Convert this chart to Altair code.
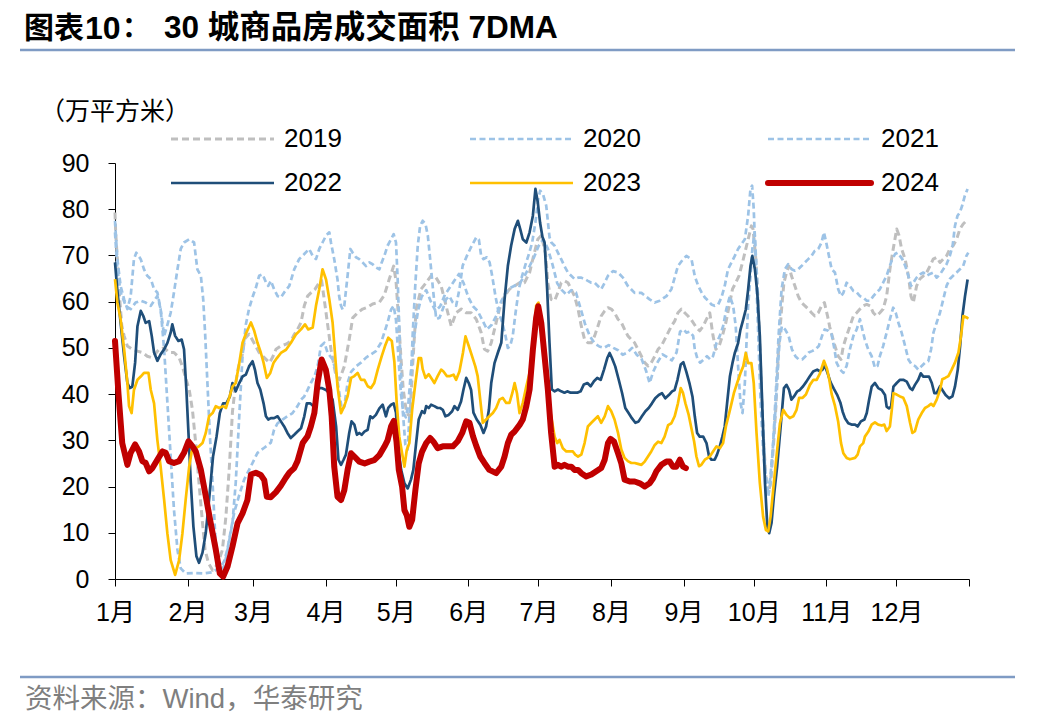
import altair as alt
import pandas as pd

# ---------------- data (day-of-year, 7DMA value in 万平方米) ----------------
YEARS = ["2019", "2020", "2021", "2022", "2023", "2024"]

P2019 = [(0,79.3),(0.3,74.9),(1.0,69.2),(1.7,62.7),(2.9,54.8),(3.9,52.6),(5.3,50.4),(7.4,49.7),(9.6,49.3),(11.7,49.0),
         (13.8,48.2),(15.7,47.9),(17.1,48.6),(18.8,49.7),(21.0,50.0),(23.1,49.0),(25.2,49.0),(27.4,47.9),(28.8,46.0),
         (30.2,43.5),(31.7,41.0),(33.1,36.6),(34.5,29.4),(35.9,20.8),(37.4,12.1),(38.5,6.3),(39.9,3.5),(41.7,1.9),
         (43.1,2.7),(44.5,4.1),(45.9,6.3),(47.4,13.5),(48.8,23.6),(50.2,36.2),(51.6,42.4),(52.8,46.0),(54.2,48.0),
         (55.5,52.0),(57.3,53.0),(59.5,51.0),(61.6,49.0),(63.8,47.9),(66.0,46.8),(67.3,47.9),(68.8,49.7),(70.9,50.4),
         (73.1,50.8),(75.2,51.5),(76.6,52.9),(78.0,54.0),(79.5,55.5),(80.9,59.1),(82.3,61.2),(83.7,61.9),(85.5,62.7),
         (86.9,63.8),(88.3,64.6),(90.2,57.6),(92.3,49.7),(94.5,43.8),(95.9,43.1),(98.0,46.0),(100.1,51.8),(101.6,56.5),
         (103.7,57.6),(105.8,58.4),(108.0,58.8),(110.1,59.5),(113.0,59.9),(115.1,61.4),(117.3,65.0),(119.1,67.7),
         (120.1,64.5),(121.1,57.0),(122.2,48.0),(123.2,41.0),(124.3,37.0),(125.3,35.5),(126.1,35.2),(127.2,46.1),
         (128.7,58.4),(130.8,62.7),(133.0,64.1),(135.1,65.6),(137.2,65.2),(139.4,63.4),(141.5,59.1),(143.7,54.7),
         (145.8,57.6),(148.0,58.4),(150.1,57.6),(152.2,57.6),(154.4,56.2),(156.5,53.3),(157.9,49.7),(159.3,49.3),
         (160.8,51.1),(162.2,54.0),(164.3,58.4),(166.5,61.2),(168.6,62.7),(170.8,63.4),(172.9,64.1),(175.0,64.1),
         (177.2,66.3),(178.9,69.9),(180.7,73.5),(182.2,74.3),(184.0,70.5),(185.0,64.1),(186.4,60.5),(187.9,60.2),
         (189.3,62.0),(190.7,64.1),(192.1,64.5),(193.6,64.1),(195.0,62.7),(196.4,61.2),(197.9,58.4),(199.3,54.7),
         (200.7,51.8),(202.1,51.1),(203.6,51.1),(205.0,52.6),(206.4,54.7),(207.8,56.9),(209.3,58.0),(210.7,58.7),
         (212.1,58.4),(213.5,57.6),(215.0,56.2),(216.4,55.5),(217.8,54.0),(219.2,52.6),(220.7,51.8),(222.1,51.1),
         (223.5,49.7),(225.0,48.2),(226.4,46.8),(227.8,46.1),(229.2,46.8),(230.7,48.2),(232.1,49.7),(233.5,50.4),
         (234.9,51.8),(236.4,53.3),(237.8,54.7),(239.2,55.8),(240.6,57.6),(242.1,58.4),(243.5,57.6),(244.9,56.9),
         (246.4,56.0),(248.5,54.4),(249.9,53.7),(251.4,54.7),(252.8,56.2),(254.2,57.6),(255.6,52.6),(256.8,49.7),
         (258.2,50.4),(259.6,52.6),(261.1,55.5),(262.5,59.1),(263.9,62.7),(265.3,64.1),(266.7,65.6),(268.2,68.5),
         (269.6,71.4),(271.0,74.3),(272.0,76.4),(272.7,75.7),(273.9,69.2),(274.9,59.8),(275.9,46.1),(277.0,31.6),
         (278.2,22.2),(279.2,18.6),(280.2,20.8),(281.3,28.0),(282.5,37.4),(283.6,49.7),(284.9,58.4),(285.9,64.1),
         (287.0,66.3),(288.1,67.7),(289.1,65.6),(290.6,63.4),(292.0,61.2),(293.4,59.8),(294.9,59.1),(296.3,58.4),
         (297.7,57.6),(299.1,56.9),(300.6,57.6),(302.0,59.1),(303.2,59.8),(304.5,57.0),(305.5,54.5),(306.5,52.6),
         (307.7,50.4),(309.1,48.2),(310.3,47.5),(311.3,50.4),(312.7,52.6),(314.1,54.7),(315.6,56.9),(317.0,57.6),
         (318.4,58.4),(319.8,59.1),(321.3,59.4),(322.7,59.1),(324.1,57.6),(325.5,56.9),(326.9,57.6),(328.3,58.4),
         (329.8,61.2),(331.2,67.0),(332.6,71.4),(334.1,75.7),(335.1,74.3),(336.2,71.4),(337.7,69.2),(339.1,65.6),
         (340.2,61.2),(341.2,59.8),(342.6,63.4),(344.0,64.9),(345.5,65.6),(346.9,66.3),(348.3,67.7),(349.7,69.2),
         (351.2,69.6),(352.6,68.5),(354.0,69.2),(355.4,69.9),(356.8,71.4),(358.2,72.1),(359.7,73.5),(361.1,75.7),
         (362.5,76.8),(363.9,77.5)]

P2020 = [(0,75.0),(1.0,67.0),(2.4,62.0),(4.6,59.1),(6.7,58.4),(8.8,59.8),(11.0,60.2),(13.1,59.8),(15.3,59.1),
         (16.7,60.2),(18.1,61.2),(19.5,58.4),(21.0,49.7),(22.4,38.1),(23.8,26.5),(25.2,15.0),(26.7,6.3),(28.1,2.3),
         (30.2,1.2),(34.0,1.3),(38.0,1.2),(42.0,1.5),(45.2,2.7),(46.6,3.8),(48.0,6.3),(49.5,10.5),(51.0,14.5),
         (53.0,18.0),(55.2,21.5),(58.1,24.4),(60.9,27.3),(63.8,28.4),(66.6,29.5),(68.0,32.3),(69.5,33.7),(71.6,34.5),
         (73.7,35.2),(75.9,35.9),(78.0,37.4),(79.5,38.8),(80.9,39.5),(82.3,40.9),(83.7,42.4),(85.2,43.8),(86.6,46.0),
         (88.0,50.4),(89.5,51.1),(90.9,48.9),(93.0,47.5),(94.5,44.8),(95.8,40.5),(97.0,36.6),(98.0,37.3),(99.4,42.4),
         (100.9,44.8),(103.0,46.0),(105.1,46.8),(107.3,47.9),(109.4,48.6),(111.5,49.3),(113.7,51.1),(115.1,53.3),
         (116.5,55.5),(118.0,58.3),(119.1,59.1),(120.1,56.0),(121.1,48.2),(122.2,40.2),(123.2,36.0),(124.3,35.0),
         (125.3,37.5),(126.5,45.0),(128.0,53.0),(129.5,58.0),(131.0,61.0),(133.0,62.5),(135.0,60.0),(137.0,58.0),
         (139.0,59.0),(141.0,61.5),(143.0,63.0),(145.0,64.5),(147.0,66.0),(149.0,64.0),(151.0,61.0),(153.0,59.0),
         (155.0,58.0),(157.0,56.0),(159.0,54.0),(161.0,55.0),(163.0,57.0),(165.0,60.0),(167.0,62.0),(169.0,63.0),
         (171.0,63.5),(173.0,64.0),(175.0,65.5),(177.0,67.5),(179.0,69.5),(181.0,72.0),(183.0,73.5),(185.0,71.5),
         (187.0,68.0),(189.0,64.0),(191.0,62.5),(193.0,61.5),(195.0,62.5),(197.0,62.0),(199.0,58.5),(201.0,55.0),
         (203.0,52.5),(205.0,51.0),(207.0,50.3),(209.0,50.0),(211.0,50.6),(213.0,50.0),(215.0,49.5),(217.0,48.5),
         (219.0,49.0),(221.0,50.0),(223.0,48.5),(225.0,47.7),(227.0,45.0),(228.5,42.4),(230.0,44.8),(232.0,47.0),
         (234.0,48.6),(236.0,48.0),(238.0,47.3),(240.0,49.0),(241.5,53.5),(243.0,54.0),(244.2,53.3),(245.6,53.5),
         (247.1,52.6),(247.8,49.7),(249.0,47.5),(250.1,46.8),(251.6,47.5),(253.0,48.2),(254.4,47.5),(255.6,48.2),
         (257.1,51.1),(258.5,52.6),(259.9,54.7),(261.3,58.4),(262.8,61.2),(264.2,59.1),(265.3,54.7),(266.3,46.1),
         (267.3,38.2),(268.2,35.9),(269.2,42.4),(269.9,51.1),(270.6,59.1),(271.6,65.6),(272.4,71.4),(273.4,75.0),
         (274.5,64.1),(275.6,49.7),(276.8,35.2),(277.8,24.4),(278.8,19.3),(280.0,21.5),(281.1,28.0),(282.1,35.2),
         (283.1,43.9),(284.0,51.1),(285.0,54.7),(286.4,54.0),(287.9,52.6),(289.3,49.7),(290.8,48.2),(292.2,47.5),
         (293.7,47.5),(295.1,48.2),(296.5,49.0),(297.9,49.3),(299.4,49.7),(300.8,50.4),(302.2,52.6),(303.3,54.0),
         (304.9,53.7),(306.3,52.9),(307.5,49.7),(308.4,46.8),(309.9,45.3),(311.3,44.6),(312.7,46.1),(314.1,49.7),
         (315.6,52.6),(317.0,54.0),(318.4,56.2),(319.4,54.0),(320.5,51.8),(321.9,49.7),(323.4,48.2),(324.8,45.7),
         (325.9,46.1),(326.9,48.2),(328.3,50.4),(329.8,53.3),(331.2,56.2),(332.6,58.7),(333.7,57.6),(334.8,55.5),
         (336.2,53.3),(337.7,50.4),(339.1,47.5),(340.5,46.4),(341.9,46.1),(343.3,45.3),(344.8,46.1),(346.2,46.8),
         (347.6,47.1),(348.8,49.7),(349.8,53.3),(351.2,55.5),(352.6,57.6),(354.0,60.5),(355.4,63.4),(356.8,64.9),
         (358.2,65.6),(359.7,66.3),(361.1,67.0),(362.5,67.7),(363.9,69.9),(364.7,70.6)]

P2021 = [(0,77.5),(1.0,69.2),(2.4,63.4),(3.9,60.5),(5.3,58.4),(6.7,61.2),(8.1,69.2),(9.1,70.6),(11.0,69.2),
         (12.4,67.0),(13.8,65.6),(15.3,64.9),(16.7,62.7),(18.1,62.0),(19.5,58.4),(21.0,52.6),(22.4,55.0),(23.8,57.6),
         (25.2,62.0),(26.7,67.0),(28.1,71.4),(29.5,72.8),(31.7,73.5),(33.8,72.8),(35.2,67.0),(36.7,65.6),(37.7,60.5),
         (38.5,53.3),(39.5,42.4),(40.5,31.6),(41.7,20.8),(42.8,9.9),(43.8,4.1),(45.2,2.0),(46.6,2.7),(48.1,6.3),
         (50.2,12.1),(51.6,20.8),(53.1,35.2),(54.5,48.2),(55.9,55.0),(57.3,58.5),(58.8,61.0),(60.2,63.0),(61.6,65.6),
         (63.1,65.9),(64.5,64.2),(65.5,63.4),(66.6,64.5),(68.0,62.7),(69.5,61.2),(70.9,60.9),(72.3,62.0),(74.5,63.4),
         (76.6,67.0),(78.7,69.2),(80.9,70.3),(83.0,71.4),(84.5,69.9),(85.9,69.2),(87.3,71.4),(88.7,72.8),(90.2,74.3),
         (91.6,75.0),(92.3,72.8),(93.7,69.2),(95.1,64.8),(95.8,61.2),(96.6,59.1),(97.3,58.3),(98.0,59.1),(99.4,65.6),
         (100.6,71.4),(101.6,70.6),(103.0,69.6),(104.4,69.2),(105.8,68.5),(107.3,67.7),(108.7,68.5),(110.1,68.1),
         (111.5,67.4),(113.0,67.0),(114.0,68.5),(115.1,69.9),(116.5,72.1),(118.0,73.5),(119.1,74.6),(120.1,72.8),
         (120.8,65.0),(121.8,50.0),(122.9,37.0),(124.1,29.0),(125.1,28.0),(126.1,38.0),(127.2,52.6),(128.4,64.1),
         (129.4,72.1),(130.4,76.4),(131.5,77.5),(132.7,76.8),(133.7,74.3),(134.7,69.2),(135.9,62.7),(137.3,56.2),
         (138.7,56.5),(140.1,58.4),(141.5,60.5),(142.9,61.2),(144.4,59.8),(145.8,59.1),(147.2,62.7),(148.6,67.8),
         (150.4,69.9),(151.8,71.4),(152.9,72.5),(154.4,73.9),(155.5,73.5),(156.5,69.9),(157.5,69.2),(158.9,69.6),
         (160.1,68.5),(161.2,65.6),(162.6,61.2),(164.0,57.6),(165.5,55.5),(166.9,52.6),(167.9,50.0),(168.9,50.4),
         (170.0,52.6),(171.2,57.6),(172.6,62.7),(174.0,65.6),(175.5,68.1),(176.9,70.3),(178.3,72.8),(179.7,77.2),
         (180.9,82.2),(181.7,84.0),(182.9,83.3),(184.3,80.8),(185.7,74.0),(186.5,72.8),(187.9,72.1),(189.3,70.6),
         (190.7,69.2),(192.1,67.7),(193.6,66.3),(195.0,65.6),(196.4,64.9),(197.9,65.2),(199.3,65.2),(200.7,64.9),
         (202.1,64.5),(203.6,64.1),(205.0,64.1),(206.4,63.4),(207.8,62.7),(209.3,64.1),(210.7,65.6),(212.8,66.6),
         (215.0,66.3),(217.1,65.2),(219.2,63.4),(222.1,61.9),(225.0,61.9),(228.5,60.5),(230.7,59.8),(232.8,60.2),
         (235.7,61.2),(237.8,62.7),(240.6,67.7),(242.8,69.2),(244.2,69.9),(246.4,69.2),(247.8,65.5),(249.3,63.4),
         (250.7,62.0),(252.1,60.9),(253.5,60.2),(254.9,59.4),(256.3,59.1),(257.8,59.4),(259.2,60.9),(260.6,63.4),
         (262.0,67.0),(263.5,68.5),(264.9,69.9),(266.3,71.4),(267.8,72.5),(269.2,73.5),(270.6,78.6),(271.6,84.4),
         (272.3,85.1),(273.0,80.0),(273.9,67.7),(274.9,53.3),(275.9,38.8),(277.0,28.0),(278.2,20.8),(279.2,17.9),
         (280.2,20.8),(281.3,29.4),(282.5,41.0),(283.6,52.6),(284.9,62.7),(286.3,67.0),(287.7,68.1),(289.2,67.0),
         (290.6,66.7),(292.0,67.0),(293.4,67.7),(294.9,68.5),(296.3,69.2),(297.7,69.9),(299.1,71.0),(300.6,71.4),
         (302.0,72.8),(303.0,75.0),(304.1,72.5),(305.3,69.5),(306.3,67.0),(307.7,66.3),(309.1,62.7),(310.3,61.2),
         (311.3,61.9),(312.7,64.1),(314.1,63.4),(315.6,62.3),(317.0,62.0),(318.4,61.2),(319.8,60.9),(321.3,60.2),
         (322.7,60.2),(324.1,61.2),(325.5,62.0),(326.9,62.7),(328.3,64.1),(329.8,65.6),(331.2,67.8),(332.2,69.2),
         (333.4,70.3),(334.5,70.6),(335.5,69.9),(336.5,69.2),(337.7,67.8),(339.1,65.6),(340.2,63.4),(341.2,64.1),
         (342.6,65.2),(344.0,65.9),(345.5,66.3),(346.9,65.6),(348.3,66.0),(349.7,66.3),(351.2,65.2),(352.6,65.9),
         (354.0,67.0),(355.4,68.1),(356.8,69.9),(358.0,72.1),(359.0,76.4),(360.1,78.6),(361.1,79.3),(362.1,80.8),
         (363.2,82.9),(364.4,84.4)]

P2022 = [(0,68.5),(1.0,62.5),(2.4,55.4),(3.9,48.2),(5.3,42.4),(6.3,41.3),(7.4,41.6),(8.6,46.8),(9.6,54.7),(11.0,58.0),
         (12.1,56.9),(13.1,55.4),(14.6,55.8),(15.7,52.6),(16.7,49.0),(18.1,47.2),(19.5,48.6),(21.0,49.7),(22.4,51.1),
         (23.8,53.3),(24.5,55.1),(25.7,52.6),(27.1,51.5),(28.5,51.8),(29.5,49.7),(30.5,41.0),(31.4,31.6),(32.4,20.8),
         (33.5,11.4),(34.8,4.9),(35.9,3.5),(37.4,5.7),(38.8,10.0),(40.2,17.1),(41.9,26.5),(43.4,30.8),(44.8,35.9),
         (46.2,38.0),(47.6,38.0),(49.1,39.5),(50.2,42.4),(51.6,40.6),(53.1,42.4),(54.5,43.8),(55.9,44.2),(57.3,46.0),
         (58.8,47.1),(59.8,45.3),(60.9,42.4),(62.1,41.0),(63.5,38.0),(64.5,35.2),(65.5,34.5),(66.6,34.8),(68.0,34.8),
         (69.5,35.2),(70.9,34.1),(72.3,33.0),(73.7,31.6),(75.1,30.5),(76.6,31.2),(78.0,31.9),(79.5,32.6),(80.9,35.2),
         (82.0,38.0),(83.5,38.0),(84.9,37.3),(85.9,39.9),(86.9,41.3),(88.3,41.3),(90.2,40.9),(91.6,40.2),(93.0,38.8),
         (94.5,33.0),(95.5,25.8),(96.6,24.7),(97.7,25.8),(98.7,26.9),(100.1,31.6),(101.1,34.1),(102.3,33.4),
         (103.4,31.2),(104.4,31.6),(105.4,31.2),(106.6,31.9),(108.0,32.3),(109.1,35.2),(110.1,34.8),(111.5,35.5),
         (113.0,36.9),(114.4,37.7),(115.8,35.2),(116.8,37.0),(118.0,37.7),(119.1,38.0),(120.1,36.0),(120.8,29.4),
         (122.3,23.6),(123.7,20.7),(125.1,19.6),(126.5,21.5),(127.5,23.6),(128.7,29.4),(129.8,34.5),(131.2,36.3),
         (132.3,35.9),(133.0,37.4),(134.1,37.0),(135.1,37.7),(136.5,37.4),(137.9,37.0),(138.9,37.0),(140.1,36.6),
         (141.2,35.2),(142.6,35.5),(144.1,36.3),(145.1,37.4),(146.5,36.6),(147.9,38.4),(148.9,40.9),(150.1,43.5),
         (151.2,42.4),(152.2,40.9),(153.2,36.0),(154.6,34.5),(156.1,33.4),(157.5,31.6),(158.6,33.0),(159.8,36.6),
         (160.8,42.4),(162.2,46.7),(163.6,48.9),(165.1,51.1),(166.5,60.5),(167.9,67.7),(169.3,72.1),(170.8,75.7),
         (172.2,77.5),(173.2,75.7),(174.3,73.5),(175.8,72.8),(177.2,75.0),(178.6,78.6),(179.7,84.4),(180.7,81.5),
         (181.7,77.0),(182.7,74.0),(183.6,72.8),(184.7,62.7),(185.7,51.1),(186.7,41.0),(187.9,40.6),(189.3,41.0),
         (190.7,40.6),(192.1,40.3),(193.3,40.6),(194.7,40.3),(196.1,40.3),(197.6,40.3),(199.0,40.6),(200.4,42.1),
         (201.9,42.4),(203.3,41.7),(204.7,42.8),(206.1,43.5),(207.6,43.1),(209.0,45.3),(210.4,47.8),(211.4,48.9),
         (212.4,47.8),(213.8,46.0),(215.3,43.1),(216.7,40.3),(218.1,37.0),(219.5,35.9),(220.9,34.8),(222.4,33.8),
         (223.8,34.1),(225.2,35.2),(226.7,36.3),(228.1,37.0),(229.5,38.0),(230.9,39.1),(232.4,39.8),(233.8,40.2),
         (235.2,39.1),(236.7,39.8),(238.1,40.6),(239.2,40.9),(240.4,43.1),(241.8,46.4),(242.9,46.9),(244.2,44.8),
         (245.6,42.2),(246.8,39.5),(247.8,35.2),(248.8,31.6),(249.9,30.8),(251.4,30.8),(252.8,29.4),(253.9,26.5),
         (254.9,25.8),(256.3,25.8),(257.3,26.9),(258.5,28.7),(259.6,30.8),(260.6,33.0),(261.6,38.0),(262.8,43.8),
         (263.9,46.7),(264.9,48.9),(266.3,51.0),(267.3,53.9),(268.5,56.1),(269.6,58.3),(270.6,62.6),(271.6,67.7),
         (272.4,69.9),(273.5,67.0),(274.5,62.0),(275.6,52.6),(276.8,35.2),(277.8,20.8),(278.8,11.4),(279.6,9.9),
         (280.6,12.1),(281.6,17.8),(283.0,24.3),(284.5,33.0),(285.9,41.3),(287.0,42.0),(288.1,40.9),(289.1,38.8),
         (290.2,39.5),(291.6,40.6),(292.7,40.9),(294.1,41.7),(295.5,42.7),(296.9,43.8),(298.4,44.9),(300.1,45.3),
         (301.3,44.9),(302.4,45.3),(303.4,46.2),(304.6,44.5),(305.8,42.6),(307.2,41.2),(308.6,39.9),(310.0,38.2),
         (311.0,36.2),(312.0,34.8),(313.4,33.7),(314.8,33.4),(316.3,33.4),(317.4,33.0),(318.8,34.1),(320.3,34.5),
         (321.3,35.9),(322.3,38.8),(323.4,41.6),(324.8,42.4),(326.2,41.3),(327.7,40.9),(329.1,39.8),(329.8,37.3),
         (330.8,36.9),(331.7,37.3),(332.7,41.6),(334.1,42.4),(335.5,43.1),(336.9,43.1),(338.4,42.7),(339.8,41.3),
         (340.8,40.9),(341.9,42.0),(343.3,43.1),(344.4,44.5),(345.5,43.8),(346.9,43.8),(347.9,43.8),(349.1,42.4),
         (350.2,40.2),(351.2,40.2),(352.6,41.7),(353.6,40.9),(355.0,39.8),(356.5,39.1),(357.9,39.5),(359.0,41.6),
         (360.2,45.3),(361.2,50.4),(362.2,56.9),(363.3,61.2),(364.4,64.8)]

P2023 = [(0,64.9),(1.0,59.9),(2.4,56.2),(3.9,49.7),(5.3,42.4),(6.0,37.4),(7.1,35.9),(8.1,40.9),(9.6,43.1),(11.0,43.8),
         (12.4,44.6),(14.3,44.6),(15.3,40.9),(16.7,38.0),(18.1,30.1),(19.5,24.3),(21.0,17.1),(22.4,9.8),(23.8,4.1),
         (25.7,0.9),(27.4,4.1),(28.8,9.8),(30.2,17.1),(31.7,24.3),(32.8,27.6),(34.5,28.3),(35.9,28.7),(37.4,29.4),
         (38.8,31.6),(40.2,35.2),(41.7,35.9),(43.1,37.4),(44.5,37.0),(46.2,37.4),(47.4,37.0),(48.8,39.2),(50.2,41.6),
         (51.6,42.4),(53.1,46.7),(54.5,51.1),(55.9,53.0),(58.1,55.5),(59.5,53.7),(60.9,51.1),(62.3,49.0),(63.5,46.8),
         (64.9,43.5),(66.3,44.5),(67.8,46.8),(69.2,47.8),(70.9,48.9),(73.1,49.6),(75.2,51.1),(77.3,52.9),(79.5,54.0),
         (81.2,55.1),(82.6,54.0),(84.5,54.4),(85.9,59.1),(87.3,62.7),(88.7,67.0),(90.2,64.8),(91.6,60.5),(93.0,55.5),
         (94.0,49.0),(95.1,41.7),(96.6,35.9),(98.0,37.4),(99.4,39.5),(100.9,43.5),(102.3,43.9),(103.7,44.6),
         (105.1,43.1),(106.6,43.1),(108.0,41.7),(109.4,41.3),(110.8,42.4),(112.3,45.3),(114.0,48.2),(115.4,50.4),
         (116.8,52.2),(118.3,51.5),(119.4,47.0),(120.4,38.1),(121.5,30.8),(122.7,27.2),(123.7,24.3),(124.7,27.9),
         (125.8,29.4),(127.0,36.6),(128.4,42.4),(129.8,47.8),(130.8,47.8),(131.5,45.4),(132.7,43.5),(134.1,44.3),
         (135.5,43.2),(136.5,42.4),(137.9,43.9),(139.4,45.3),(140.4,44.9),(141.8,43.9),(143.2,43.9),(144.7,44.2),
         (145.8,43.1),(147.2,44.9),(148.7,48.9),(149.8,52.5),(151.2,50.4),(152.6,48.2),(154.0,46.0),(155.0,43.9),
         (156.1,38.8),(157.2,33.8),(158.6,34.5),(160.0,35.2),(161.5,35.9),(162.9,37.0),(164.3,38.8),(165.7,39.2),
         (167.2,38.1),(168.6,38.1),(169.8,40.2),(170.8,42.4),(171.8,40.2),(172.9,35.9),(174.3,38.1),(175.8,41.7),
         (177.2,44.6),(178.6,49.6),(180.0,59.1),(181.0,59.8),(182.2,54.0),(183.6,46.0),(185.0,39.5),(186.4,35.2),
         (187.9,30.8),(189.0,29.4),(190.0,30.1),(191.4,28.3),(192.9,27.6),(194.3,27.6),(195.7,27.6),(196.7,26.9),
         (197.9,26.5),(199.3,26.9),(200.7,29.4),(202.1,33.0),(203.6,33.8),(205.0,34.5),(206.4,35.2),(207.8,33.8),
         (209.3,35.2),(210.7,37.4),(212.1,36.3),(213.5,34.5),(215.0,31.6),(216.4,28.0),(217.8,26.2),(219.2,25.5),
         (220.7,25.1),(222.1,25.1),(223.5,24.9),(225.0,24.7),(226.4,25.4),(227.8,26.5),(229.2,27.6),(230.7,29.0),
         (232.1,29.7),(233.5,29.4),(234.9,30.8),(236.4,33.3),(237.8,33.7),(239.2,35.2),(240.6,38.0),(241.8,41.3),
         (242.8,40.2),(243.8,38.0),(245.2,35.5),(246.4,32.5),(247.5,29.8),(248.5,26.5),(249.6,24.4),(250.6,24.7),
         (252.1,25.8),(254.2,26.5),(255.6,27.6),(257.1,28.7),(258.5,28.3),(259.9,29.4),(261.1,33.0),(262.5,35.9),
         (263.5,38.0),(264.5,40.2),(265.9,42.4),(267.3,44.5),(268.5,46.0),(269.6,48.9),(270.6,46.7),(272.0,46.7),
         (273.0,42.4),(274.2,31.5),(275.6,20.8),(277.0,13.5),(278.2,10.6),(279.2,10.3),(280.2,13.5),(281.6,20.8),
         (283.0,27.9),(284.2,33.7),(285.6,36.6),(287.0,35.5),(288.4,34.8),(289.9,35.2),(291.3,36.6),(292.4,39.2),
         (293.9,39.2),(295.3,39.9),(297.0,42.0),(298.5,43.1),(299.9,43.1),(301.3,44.5),(303.0,47.2),(304.3,45.5),
         (305.3,43.1),(306.3,40.0),(307.7,37.5),(309.1,34.0),(310.3,29.4),(311.3,27.2),(312.7,26.2),(314.1,25.9),
         (316.3,26.2),(317.4,26.9),(318.4,28.7),(319.8,29.4),(320.5,30.8),(322.0,31.9),(323.4,33.4),(324.8,33.9),
         (326.2,33.4),(327.7,33.2),(328.8,33.4),(329.8,32.0),(331.2,33.0),(332.0,36.6),(332.7,40.2),(334.1,39.9),
         (335.5,39.5),(336.9,39.2),(338.4,37.4),(339.8,33.8),(340.8,31.6),(341.9,32.0),(343.3,34.5),(344.8,35.9),
         (346.2,37.0),(347.6,37.4),(348.8,37.9),(349.8,37.4),(351.2,38.8),(352.6,40.9),(353.6,43.2),(354.8,43.5),
         (356.2,43.9),(357.6,45.3),(359.0,46.8),(360.5,49.0),(361.6,52.6),(362.6,56.9),(364.0,56.6),(364.7,56.3)]

P2024 = [(0,51.5),(1.5,40.0),(3.1,29.4),(5.3,24.7),(6.7,27.3),(8.6,29.1),(10.3,27.6),(11.7,25.5),(13.1,25.1),
         (14.6,23.3),(16.0,24.0),(18.1,25.8),(20.3,27.6),(21.7,27.3),(23.1,25.5),(25.2,25.1),(27.4,25.5),(29.5,27.3),
         (31.4,29.8),(33.1,28.7),(34.5,27.6),(36.7,23.6),(38.8,17.9),(40.9,12.1),(43.1,6.3),(44.8,1.2),(46.2,0.5),
         (48.1,2.7),(50.2,7.0),(52.4,12.1),(54.5,14.2),(56.6,17.1),(58.1,22.6),(60.2,23.0),(62.3,22.5),(63.8,21.4),
         (64.9,17.8),(66.6,17.7),(68.8,18.8),(70.9,20.2),(73.0,21.9),(74.5,23.0),(76.6,24.0),(78.0,25.5),(80.2,29.4),
         (82.3,30.9),(83.7,33.0),(85.2,35.9),(86.6,42.4),(88.3,47.5),(90.1,45.3),(91.6,40.9),(92.6,35.2),(93.7,24.3),
         (95.1,17.8),(96.6,17.1),(98.0,19.2),(99.4,23.6),(100.9,27.2),(102.3,26.5),(104.4,25.4),(106.7,25.0),
         (108.7,25.4),(110.8,25.7),(113.0,26.8),(115.1,28.6),(116.5,30.0),(118.0,33.0),(119.2,34.2),(120.3,29.8),
         (121.3,23.6),(122.7,20.0),(123.7,14.9),(124.7,13.8),(125.8,11.3),(127.0,12.8),(128.4,19.3),(129.8,25.0),
         (131.2,27.5),(133.0,29.4),(134.7,30.5),(136.1,29.7),(137.9,28.3),(140.1,28.7),(142.2,28.7),(144.4,28.7),
         (146.5,29.8),(148.4,31.6),(150.1,34.1),(151.5,33.8),(153.0,30.9),(154.4,28.8),(156.1,26.5),(157.9,25.1),
         (160.0,23.6),(162.9,22.9),(165.1,24.3),(166.5,26.5),(167.9,29.4),(169.3,31.2),(170.8,31.9),(173.0,33.4),
         (174.3,34.5),(175.8,37.4),(177.2,41.0),(178.6,49.6),(180.0,56.5),(180.9,59.0),(182.2,55.4),(183.6,48.2),
         (185.0,41.0),(186.4,31.6),(187.9,24.3),(189.3,24.7),(190.7,24.3),(192.1,24.7),(193.6,24.3),(195.0,24.3),
         (196.4,23.6),(197.9,23.6),(199.3,22.9),(201.4,22.2),(203.6,22.6),(205.7,23.3),(207.8,24.0),(209.3,25.8),
         (210.7,29.4),(211.8,30.3),(213.3,29.7),(215.0,27.2),(216.4,25.0),(217.8,21.5),(220.0,21.1),(222.1,21.1),
         (224.3,20.7),(226.4,20.0),(228.5,20.7),(230.0,21.8),(231.4,23.3),(233.5,24.7),(235.7,25.4),(237.1,25.4),
         (238.5,24.3),(239.9,24.3),(241.4,25.8),(242.8,24.3),(244.0,24.0)]

SERIES = [P2019, P2020, P2021, P2022, P2023, P2024]

MONTH_START = [0, 31, 59, 90, 120, 151, 181, 212, 243, 273, 304, 334, 365]
MONTH_LABELS = ["1月", "2月", "3月", "4月", "5月", "6月", "7月", "8月", "9月", "10月", "11月", "12月", ""]
Y_TICKS = [0, 10, 20, 30, 40, 50, 60, 70, 80, 90]

TITLE_A = "图表"
TITLE_B = "10"
TITLE_C = "："
TITLE_D = "30 城商品房成交面积 7DMA"
UNIT = "（万平方米）"
SOURCE = "资料来源：Wind，华泰研究"

# ---------------- styles ----------------
COLORS = ["#BFBFBF", "#9DC3E6", "#9DC3E6", "#1F4E79", "#FFC000", "#C00000"]
WIDTHS = [3.0, 2.7, 2.7, 2.7, 2.7, 6.0]
DASHES = [[7, 4], [6, 3.5], [6, 3.5], None, None, None]
CAPS = ["butt", "butt", "butt", "butt", "butt", "round"]
FONT = "Liberation Sans, Arial, Noto Sans CJK SC"
LINE_COLOR = "#7F9BC4"

PLOT_W, PLOT_H = 854, 416
PAD = {"left": 107, "top": 155, "right": 71, "bottom": 141}
OX, OY = 115, 163  # page position of the plot origin (8px page margin + padding)

rows = []
for yr, pts in zip(YEARS, SERIES):
    for d, v in pts:
        rows.append({"year": yr, "day": d, "value": v})
df = pd.DataFrame(rows)

label_expr = "".join(f"datum.value == {d} ? '{l}' : " for d, l in zip(MONTH_START, MONTH_LABELS)) + "''"

X_ENC = alt.X("day:Q",
              scale=alt.Scale(domain=[0, 365], nice=False, zero=False),
              axis=alt.Axis(values=MONTH_START, labelExpr=label_expr, title=None, grid=False,
                            tickSize=7, labelPadding=14, labelFontSize=25, labelFont=FONT,
                            labelColor="black", domainColor="black", tickColor="black",
                            labelFlush=False, labelOverlap=False, labelAngle=0))
Y_ENC = alt.Y("value:Q",
              scale=alt.Scale(domain=[0, 90], nice=False),
              axis=alt.Axis(values=Y_TICKS, title=None, grid=False, tickSize=7, labelPadding=19,
                            labelFontSize=25, labelFont=FONT, labelColor="black",
                            domainColor="black", tickColor="black"))


def style_kw(i):
    kw = dict(color=COLORS[i], strokeWidth=WIDTHS[i], strokeCap=CAPS[i])
    if DASHES[i] is not None:
        kw["strokeDash"] = DASHES[i]
    return kw


layers = []
for i, yr in enumerate(YEARS):
    layers.append(
        alt.Chart(df).transform_filter(alt.datum.year == yr)
        .mark_line(strokeJoin="round", **style_kw(i))
        .encode(x=X_ENC, y=Y_ENC)
    )

# ---------------- legend (3 columns x 2 rows) ----------------
COL_X = [56, 355, 653]
ROW_Y = [-24, 20]
SYM_LEN = 103
one = pd.DataFrame({"k": [0]})
for i, yr in enumerate(YEARS):
    cx = COL_X[i % 3]
    cy = ROW_Y[i // 3]
    layers.append(
        alt.Chart(one).mark_rule(**style_kw(i)).encode(
            x=alt.value(cx), x2=alt.value(cx + SYM_LEN), y=alt.value(cy))
    )
    layers.append(
        alt.Chart(one).mark_text(text=yr, align="left", baseline="middle", fontSize=26,
                                 font=FONT, color="black").encode(
            x=alt.value(cx + SYM_LEN + 10), y=alt.value(cy))
    )

# ---------------- decorations ----------------
def label(text, px, py, size, color="black", weight="normal", align="left"):
    return alt.Chart(one).mark_text(text=text, align=align, baseline="middle", fontSize=size,
                                    fontWeight=weight, font=FONT, color=color).encode(
        x=alt.value(px - OX), y=alt.value(py - OY))


layers += [
    label(TITLE_A, 24, 29, 30, weight="bold"),
    label(TITLE_B, 85, 29, 32, weight="bold"),
    label(TITLE_C, 122, 29, 28, weight="bold"),
    label(TITLE_D, 164, 29, 31.5, weight="bold"),
    label(UNIT, 40, 112, 25),
    label(SOURCE, 25, 700, 27.5, color="#7F7F7F"),
    alt.Chart(one).mark_rule(color=LINE_COLOR, strokeWidth=2.5).encode(
        x=alt.value(20 - OX), x2=alt.value(1015 - OX), y=alt.value(50 - OY)),
    alt.Chart(one).mark_rule(color=LINE_COLOR, strokeWidth=2.5).encode(
        x=alt.value(20 - OX), x2=alt.value(1015 - OX), y=alt.value(677 - OY)),
]

chart = alt.layer(*layers).properties(
    width=PLOT_W, height=PLOT_H,
    autosize=alt.AutoSizeParams(type="none"),
    padding=PAD,
).configure_view(stroke=None).configure_axis(domainWidth=1, tickWidth=1)

chart.save("out.html", embed_options={"renderer": "svg", "actions": False})
